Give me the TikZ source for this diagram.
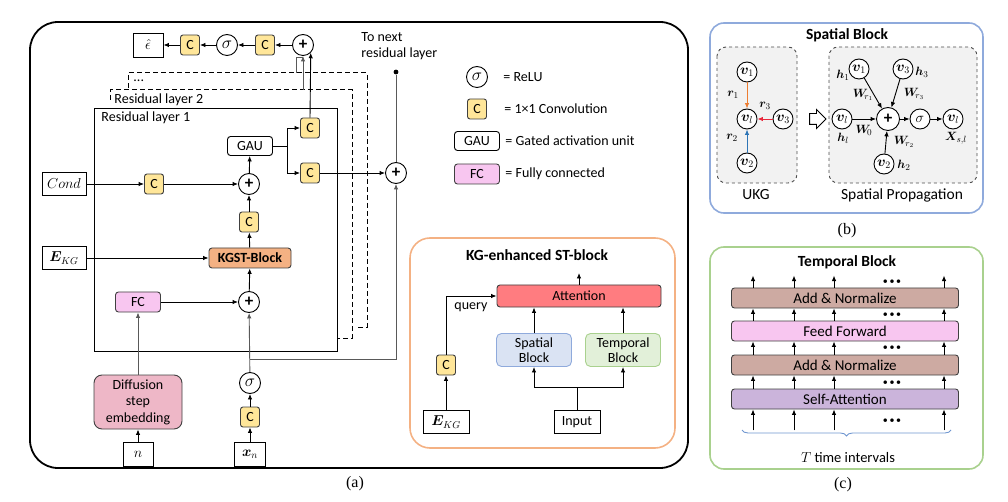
\documentclass[tikz,border=0pt]{standalone}
\usepackage{amssymb}
\usepackage{amsmath}
\usepackage{bm}
\usepackage{fontspec}
\setmainfont{Carlito}
\newfontfamily\capfont{Liberation Serif}
\usetikzlibrary{arrows.meta,positioning,calc,shapes.arrows,decorations.pathreplacing}

\definecolor{convfill}{HTML}{FFE699}
\definecolor{fcfill}{HTML}{F8C6F0}
\definecolor{kgstfill}{HTML}{F4B183}
\definecolor{embfill}{HTML}{EEB7C7}
\definecolor{attnfill}{HTML}{FF7C80}
\definecolor{spfill}{HTML}{DAE3F3}
\definecolor{spline}{HTML}{8FAADC}
\definecolor{tpfill}{HTML}{E2F0D9}
\definecolor{tpline}{HTML}{A9D18E}
\definecolor{normfill}{HTML}{CDAAA2}
\definecolor{safill}{HTML}{CBB4DB}
\definecolor{dashfill}{HTML}{F2F2F2}
\definecolor{edgeor}{HTML}{ED7D31}
\definecolor{edgered}{HTML}{E8283C}
\definecolor{edgeblue}{HTML}{2E75B6}
\definecolor{bracecol}{HTML}{6F96D0}
\definecolor{boxline}{HTML}{404040}

\tikzset{
  conv/.style={draw=boxline, rounded corners=2.5pt, fill=convfill, minimum width=19pt, minimum height=20pt, inner sep=0pt},
  opnode/.style={draw, circle, fill=white, minimum size=21pt, inner sep=0pt},
  varbox/.style={draw, fill=white, minimum width=30pt, minimum height=24pt, inner sep=0pt, font=\fontsize{14.5}{14.5}\selectfont},
  gaubox/.style={draw, rounded corners=3pt, fill=white, minimum width=45pt, minimum height=19pt, inner sep=0pt},
  fcbox/.style={draw=boxline, rounded corners=3pt, fill=fcfill, minimum width=45pt, minimum height=20pt, inner sep=0pt},
  vnode/.style={draw, circle, fill=white, minimum size=20pt, inner sep=0pt},
  bar/.style={draw=boxline, rounded corners=3pt, minimum width=227pt, minimum height=20pt, inner sep=0pt, font=\fontsize{15}{17}\selectfont},
  dashline/.style={dash pattern=on 5pt off 3pt, line width=1pt},
  ttl/.style={font=\fontsize{15.5}{17}\selectfont\bfseries},
  captext/.style={font=\fontsize{16}{18}\selectfont\capfont},
  plus/.style={font=\fontsize{17}{17}\selectfont\bfseries},
  mlbl/.style={inner sep=0pt, font=\fontsize{13}{13}\selectfont}
}

\begin{document}
\begin{tikzpicture}[x=1pt,y=-1pt,line width=0.9pt,>={Latex[length=5.5pt,width=4.5pt]},font=\fontsize{14}{16}\selectfont]
\useasboundingbox (0,0) rectangle (1008,502);

% (a) denoising network
\draw[line width=1.8pt, rounded corners=28pt] (30,22) rectangle (688,468);
\draw[dashline] (128,88) -- (128,73) -- (367,73) -- (367,327) -- (357,327);
\draw[dashline] (110,100) -- (110,90) -- (352,90) -- (352,338) -- (337,338);
\draw (94,108) rectangle (337,351);
\node[anchor=west, inner sep=0pt] (dotslbl) at (133,81) {...};
\node[anchor=west, inner sep=0pt] (res2lbl) at (114,100) {Residual layer 2};
\node[anchor=west, inner sep=0pt] (res1lbl) at (101,118) {Residual layer 1};

\node[opnode, plus] (outadd) at (303,45) {+};
\node[conv] (oc2) at (265,45) {C};
\node[opnode, font=\fontsize{16}{16}\selectfont] (osig) at (227,45) {$\sigma$};
\node[conv] (oc1) at (190,45) {C};
\node[varbox] (eps) at (148,45) {$\hat{\epsilon}$};
\draw[->] (outadd) -- (oc2);
\draw[->] (oc2) -- (osig);
\draw[->] (osig) -- (oc1);
\draw[->] (oc1) -- (eps);

\node[conv] (skipc) at (310,128) {C};
\node[conv] (resc) at (310,173) {C};
\node[gaubox] (gau) at (250,146) {GAU};
\node[opnode, plus] (addc) at (249,184) {+};
\node[conv] (condc) at (154,184) {C};
\node[varbox, minimum width=44pt, minimum height=23pt] (cond) at (64,184) {$Cond$};
\node[conv] (kgc) at (249,222) {C};
\node[draw=boxline, rounded corners=3pt, fill=kgstfill, minimum width=82pt, minimum height=20pt, inner sep=0pt, font=\fontsize{14}{16}\selectfont\bfseries] (kgst) at (250,258) {KGST-Block};
\node[varbox, minimum width=44pt, minimum height=23pt] (ekg) at (64,258) {$\bm{E}_{KG}$};
\node[opnode, plus] (addn) at (249,302) {+};
\node[fcbox] (fc) at (138,302) {FC};
\node[draw=boxline, rounded corners=8pt, fill=embfill, minimum width=88pt, minimum height=54pt, align=center, font=\fontsize{14}{16.5}\selectfont] (emb) at (138,402) {Diffusion\\step\\embedding};
\node[varbox] (n) at (138,454) {$n$};
\node[varbox, minimum width=31pt] (xn) at (250,454) {$\bm{x}_n$};
\node[conv] (xc) at (250,417) {C};
\node[opnode, font=\fontsize{16}{16}\selectfont] (xsig) at (250,383) {$\sigma$};
\node[opnode, plus] (resadd) at (396,173) {+};
\node[circle, fill, inner sep=1.7pt] (nextdot) at (396,72) {};
\node[anchor=north west, align=left, inner sep=0pt] (nextlbl) at (361,32) {To next\\residual layer};

\draw[->] (n) -- (emb);
\draw[->, black!65] (emb) -- (fc);
\draw[->] (fc) -- (addn);
\draw[->] (xn) -- (xc);
\draw[->] (xc) -- (xsig);
\draw[->, black!65] (xsig) -- (addn);
\draw[->] (addn) -- (kgst);
\draw[->] (ekg) -- (kgst);
\draw[->] (kgst) -- (kgc);
\draw[->] (kgc) -- (addc);
\draw[->] (cond) -- (condc);
\draw[->] (condc) -- (addc);
\draw[->] (addc) -- (gau);
\draw (gau.east) -- ++(14,0) coordinate (split);
\draw[->] (split) |- (skipc);
\draw[->] (split) |- (resc);
\draw[->] (resc) -- (resadd);
\coordinate (tap) at (250,359);
\draw[->, black!65] (tap) -| (resadd);
\draw[black!65] (resadd) -- (nextdot);
\draw[->] (skipc.north) -- (outadd.-45);
\coordinate (res2out) at (303,90);
\coordinate (dotsout) at (296,73);
\draw[->, black!65] (res2out) -- (outadd.south);
\draw[black!65] (dotsout) |- (303,57);

% legend
\node[opnode, font=\fontsize{16}{16}\selectfont] (lgsig) at (477,77) {$\sigma$};
\node[anchor=west, inner sep=0pt] (lgsigt) at (503,77) {= ReLU};
\node[conv] (lgconv) at (477,109) {C};
\node[anchor=west, inner sep=0pt] (lgconvt) at (504,109) {= 1×1 Convolution};
\node[gaubox] (lggau) at (477,141) {GAU};
\node[anchor=west, inner sep=0pt] (lggaut) at (505,141) {= Gated activation unit};
\node[fcbox] (lgfc) at (477,174) {FC};
\node[anchor=west, inner sep=0pt] (lgfct) at (505,174) {= Fully connected};

% KG-enhanced ST-block
\draw[draw=kgstfill, line width=1.6pt, rounded corners=20pt] (410,238) rectangle (675,448);
\node[ttl] (sttitle) at (537,255) {KG-enhanced ST-block};
\node[draw=boxline, rounded corners=3pt, fill=attnfill, minimum width=164pt, minimum height=22pt, inner sep=0pt] (attn) at (579,296) {Attention};
\coordinate (attnout) at (579,273);
\draw[->] (attn) -- (attnout);
\node[draw=spline, fill=spfill, rounded corners=5pt, minimum width=75pt, minimum height=33pt, align=center, inner sep=0pt, font=\fontsize{14}{15}\selectfont] (spblk) at (534,350) {Spatial\\Block};
\node[draw=tpline, fill=tpfill, rounded corners=5pt, minimum width=75pt, minimum height=33pt, align=center, inner sep=0pt, font=\fontsize{14}{15}\selectfont] (tpblk) at (623,350) {Temporal\\Block};
\node[varbox, minimum width=46pt, minimum height=23pt, font=\fontsize{14}{16}\selectfont] (inp) at (577,422) {Input};
\node[varbox, minimum width=46pt, minimum height=23pt] (ekg2) at (446,422) {$\bm{E}_{KG}$};
\node[conv] (qc) at (446,365) {C};
\node[anchor=west, inner sep=0pt] (query) at (454,307) {query};
\draw[->] (ekg2) -- (qc);
\draw[->] (qc) |- (attn);
\draw (inp) -- (577,387) coordinate (fork);
\draw[->] (fork) -| (spblk);
\draw[->] (fork) -| (tpblk);
\draw[->] (spblk) -- (spblk |- attn.south);
\draw[->] (tpblk) -- (tpblk |- attn.south);

\node[captext] (capa) at (355,484) {(a)};

% (b) spatial block
\draw[draw=spline, line width=1.6pt, rounded corners=14pt] (710,23) rectangle (983,213);
\node[ttl] (sbtitle) at (847,35) {Spatial Block};
\draw[dashed, draw=black!70, fill=dashfill, rounded corners=9pt] (717,47) rectangle (797,183);
\draw[dashed, draw=black!70, fill=dashfill, rounded corners=9pt] (829,47) rectangle (977,183);
\node[font=\fontsize{15.5}{17}\selectfont] (ukglbl) at (756,195) {UKG};
\node[font=\fontsize{15.5}{17}\selectfont] (splbl) at (902,195) {Spatial Propagation};
\node[single arrow, draw, fill=white, minimum height=16pt, inner sep=5pt, single arrow head extend=4pt] (flow) at (815,119) {};

\begin{scope}[every node/.append style={font=\fontsize{14}{14}\selectfont}]
\node[vnode] (u1) at (747,72) {$\bm{v}_1$};
\node[vnode] (ul) at (747,119) {$\bm{v}_l$};
\node[vnode] (u3) at (783,119) {$\bm{v}_3$};
\node[vnode] (u2) at (747,163) {$\bm{v}_2$};
\draw[->, edgeor] (u1) -- (ul);
\draw[->, edgered] (u3) -- (ul);
\draw[->, edgeblue] (u2) -- (ul);
\node[mlbl] (r1) at (733,95) {$\bm{r}_1$};
\node[mlbl] (r3) at (765,106) {$\bm{r}_3$};
\node[mlbl] (r2) at (732,138) {$\bm{r}_2$};

\node[vnode] (p1) at (859,69) {$\bm{v}_1$};
\node[vnode] (p3) at (903,69) {$\bm{v}_3$};
\node[vnode] (pl) at (842,119) {$\bm{v}_l$};
\node[opnode, plus, minimum size=23pt] (padd) at (888,119) {+};
\node[vnode, font=\fontsize{15}{15}\selectfont] (psig) at (920,119) {$\sigma$};
\node[vnode] (pout) at (953,119) {$\bm{v}_l$};
\node[vnode] (p2) at (884,164) {$\bm{v}_2$};
\draw[->] (p1) -- (padd);
\draw[->] (p3) -- (padd);
\draw[->] (pl) -- (padd);
\draw[->] (p2) -- (padd);
\draw[->] (padd) -- (psig);
\draw[->] (psig) -- (pout);
\node[mlbl] (h1) at (843,75) {$\bm{h}_1$};
\node[mlbl] (h3) at (922,72) {$\bm{h}_3$};
\node[mlbl] (hl) at (843,138) {$\bm{h}_l$};
\node[mlbl] (h2) at (904,165) {$\bm{h}_2$};
\node[mlbl] (xsl) at (956,138) {$\bm{X}_{s,l}$};
\node[mlbl] (wr1) at (863,95) {$\bm{W}_{\!r_1}$};
\node[mlbl] (wr3) at (914,94) {$\bm{W}_{\!r_3}$};
\node[mlbl] (w0) at (864,130) {$\bm{W}_{\!0}$};
\node[mlbl] (wr2) at (904,142) {$\bm{W}_{\!r_2}$};
\end{scope}

\node[captext] (capb) at (847,231) {(b)};

% (c) temporal block
\draw[draw=tpline, line width=1.6pt, rounded corners=14pt] (710,247) rectangle (983,469);
\node[ttl] (tbtitle) at (847,262) {Temporal Block};
\node[bar, fill=normfill] (an2) at (845,298) {Add \& Normalize};
\node[bar, fill=fcfill] (ff) at (845,331) {Feed Forward};
\node[bar, fill=normfill] (an1) at (845,365) {Add \& Normalize};
\node[bar, fill=safill] (sa) at (845,399) {Self-Attention};
\foreach \x in {753,794,834,944} {
  \draw[->] (sa.south -| \x,0) ++(0,21) -- (sa.south -| \x,0);
  \draw[->] (sa.north -| \x,0) -- (an1.south -| \x,0);
  \draw[->] (an1.north -| \x,0) -- (ff.south -| \x,0);
  \draw[->] (ff.north -| \x,0) -- (an2.south -| \x,0);
  \draw[->] (an2.north -| \x,0) -- ++(0,-12);
}
\foreach \y in {282,315,348,383,421}
  \node[font=\fontsize{10}{10}\selectfont] at (892,\y) {\textbullet\,\textbullet\,\textbullet};
\draw[decorate, decoration={brace, mirror, amplitude=6pt}, draw=bracecol] (742,430) -- (951,430);
\node[font=\fontsize{14.5}{16}\selectfont] (tlbl) at (848,458) {$T$ time intervals};

\node[captext] (capc) at (843,485) {(c)};
\end{tikzpicture}
\end{document}
